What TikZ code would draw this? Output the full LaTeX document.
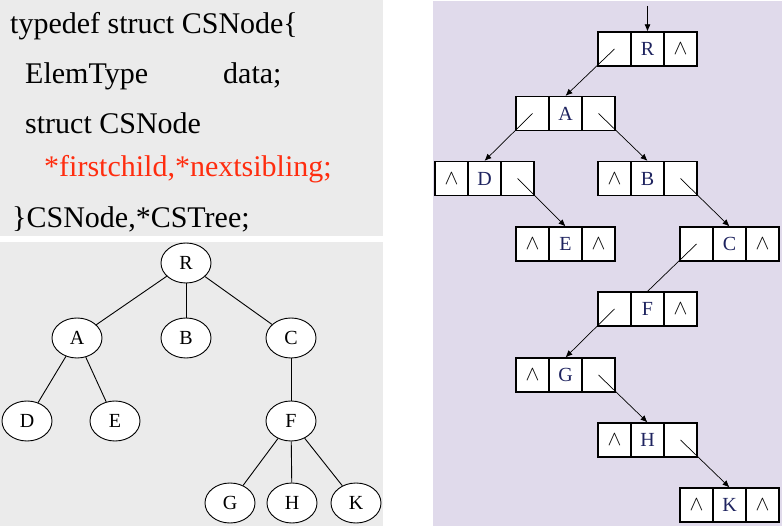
\documentclass[tikz,border=0pt]{standalone}
\usepackage{fontspec}
\setmainfont{Liberation Serif}
\usepackage{tikz}
\usetikzlibrary{arrows.meta,shapes.geometric}
\definecolor{codebg}{RGB}{235,235,235}
\definecolor{listbg}{RGB}{224,218,235}
\definecolor{ptrred}{RGB}{255,45,15}
\definecolor{lblblue}{RGB}{30,35,95}
\tikzset{
  cell/.style={draw, fill=white, line width=1.2pt, minimum width=33pt, minimum height=34pt, inner sep=0pt, font=\fontsize{20}{20}\selectfont},
  dcell/.style={cell, text=lblblue},
  tnode/.style={ellipse, draw, fill=white, line width=0.9pt, minimum width=50pt, minimum height=40pt, inner sep=0pt, font=\fontsize{20}{20}\selectfont},
  code/.style={anchor=base west, inner sep=0pt, font=\fontsize{30}{36}\selectfont},
  ptr/.style={line width=0.7pt, -{Latex[length=7pt,width=6pt]}}
}
\begin{document}
\begin{tikzpicture}[x=1pt,y=-1pt]
  \useasboundingbox (0,0) rectangle (782,526);
  \fill[codebg] (0,0) rectangle (383,236);
  \fill[codebg] (0,242) rectangle (383,526);
  \fill[listbg] (433,1) rectangle (782,526);

  % the struct
  \node[code] (line1) at (10,34) {typedef struct CSNode\{};
  \node[code] (line2) at (25,84) {ElemType};
  \node[code] (line2b) at (223,84) {data;};
  \node[code] (line3) at (25,134) {struct CSNode};
  \node[code, text=ptrred] (line4) at (44,177) {*firstchild,*nextsibling;};
  \node[code] (line5) at (12,228) {\}CSNode,*CSTree;};

  % the tree
  \node[tnode] (tR) at (186,263) {R};
  \node[tnode] (tA) at (77,338) {A};
  \node[tnode] (tB) at (186,338) {B};
  \node[tnode] (tC) at (291,338) {C};
  \node[tnode] (tD) at (27,421) {D};
  \node[tnode] (tE) at (115,421) {E};
  \node[tnode] (tF) at (291,421) {F};
  \node[tnode] (tG) at (230,503) {G};
  \node[tnode] (tH) at (292,503) {H};
  \node[tnode] (tK) at (356,503) {K};
  \draw[line width=0.9pt] (tR) -- (tA);
  \draw[line width=0.9pt] (tR) -- (tB);
  \draw[line width=0.9pt] (tR) -- (tC);
  \draw[line width=0.9pt] (tA) -- (tD);
  \draw[line width=0.9pt] (tA) -- (tE);
  \draw[line width=0.9pt] (tC) -- (tF);
  \draw[line width=0.9pt] (tF) -- (tG);
  \draw[line width=0.9pt] (tF) -- (tH);
  \draw[line width=0.9pt] (tF) -- (tK);

  % child-sibling list
  \coordinate (head) at (647.5,6);
  \node[cell] (R1) at (614.5,49) {};
  \node[dcell] (R2) at (647.5,49) {R};
  \node[cell] (R3) at (680.5,49) {$\wedge$};
  \node[cell] (A1) at (532.5,113.5) {};
  \node[dcell] (A2) at (565.5,113.5) {A};
  \node[cell] (A3) at (598.5,113.5) {};
  \node[cell] (D1) at (451.5,178.5) {$\wedge$};
  \node[dcell] (D2) at (484.5,178.5) {D};
  \node[cell] (D3) at (517.5,178.5) {};
  \node[cell] (B1) at (614.5,178.5) {$\wedge$};
  \node[dcell] (B2) at (647.5,178.5) {B};
  \node[cell] (B3) at (680.5,178.5) {};
  \node[cell] (E1) at (532.5,244) {$\wedge$};
  \node[dcell] (E2) at (565.5,244) {E};
  \node[cell] (E3) at (598.5,244) {$\wedge$};
  \node[cell] (C1) at (696.5,244) {};
  \node[dcell] (C2) at (729.5,244) {C};
  \node[cell] (C3) at (762.5,244) {$\wedge$};
  \node[cell] (F1) at (614.5,309) {};
  \node[dcell] (F2) at (647.5,309) {F};
  \node[cell] (F3) at (680.5,309) {$\wedge$};
  \node[cell] (G1) at (532.5,375) {$\wedge$};
  \node[dcell] (G2) at (565.5,375) {G};
  \node[cell] (G3) at (598.5,375) {};
  \node[cell] (H1) at (614.5,440) {$\wedge$};
  \node[dcell] (H2) at (647.5,440) {H};
  \node[cell] (H3) at (680.5,440) {};
  \node[cell] (K1) at (696.5,505) {$\wedge$};
  \node[dcell] (K2) at (729.5,505) {K};
  \node[cell] (K3) at (762.5,505) {$\wedge$};

  \draw[ptr] (head) -- (R2.north);
  \draw[ptr] (R1.center) -- (A2.north);
  \draw[ptr] (A1.center) -- (D2.north);
  \draw[ptr] (A3.center) -- (B2.north);
  \draw[ptr] (D3.center) -- (E2.north);
  \draw[ptr] (B3.center) -- (C2.north);
  \draw[line width=0.7pt] (C1.center) -- (F2.north);
  \draw[ptr] (F1.center) -- (G2.north);
  \draw[ptr] (G3.center) -- (H2.north);
  \draw[ptr] (H3.center) -- (K2.north);
\end{tikzpicture}
\end{document}
